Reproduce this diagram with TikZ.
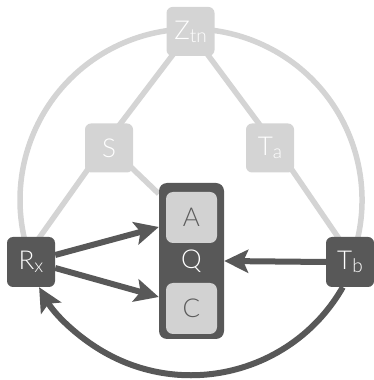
\documentclass[tikz,border=0pt]{standalone}
\usepackage{fontspec}
\setmainfont{Lato}[UprightFont={* Light}]
\usetikzlibrary{arrows.meta,backgrounds}

\definecolor{darkbox}{RGB}{88,88,88}
\definecolor{lightbox}{RGB}{212,212,212}
\definecolor{innerbox}{RGB}{210,210,210}
\definecolor{innertext}{RGB}{92,92,92}

% lowered, smaller index after a letter
\newcommand\idx[1]{\raisebox{-3pt}{\fontsize{19}{19}\selectfont #1}}

\tikzset{
  lbl/.style={font=\fontsize{26}{30}\selectfont},
  faded/.style={lbl, fill=lightbox, text=white, rounded corners=6pt,
                minimum width=48pt, minimum height=49pt, inner sep=0pt},
  solid box/.style={lbl, fill=darkbox, text=white, rounded corners=6pt,
                minimum width=48pt, minimum height=50pt, inner sep=0pt},
  holder/.style={lbl, fill=darkbox, text=white, rounded corners=8pt,
                minimum width=65pt, minimum height=156pt, inner sep=0pt},
  slot/.style={lbl, fill=innerbox, text=innertext, rounded corners=7pt,
                minimum width=51pt, minimum height=51pt, inner sep=0pt},
  ring/.style={draw=lightbox, line width=5.5pt},
  link/.style={draw=lightbox, line width=5.5pt},
  flow/.style={draw=darkbox, line width=6pt,
               -{Stealth[length=24pt,width=23pt,inset=5pt]}}
}

\begin{document}
\begin{tikzpicture}[x=1pt,y=1pt]
\useasboundingbox (0,0) rectangle (373,380);

% nodes
\node[faded] (Ztn) at (190.5,348.5) {Z\idx{tn}};
\node[faded] (S)   at (109,232) {S};
\node[faded] (Ta)  at (270,232) {T\idx{a}};
\node[solid box] (Rx) at (31,118) {R\idx{x}};
\node[solid box] (Tb) at (350,118) {T\idx{b}};
\node[holder] (Q) at (191.5,119) {Q};
\node[slot] (A) at (191.5,162.5) {A};
\node[slot] (C) at (191.5,71.5) {C};

% upper part of the outer ring and pale links, behind the boxes
\begin{scope}[on background layer]
  \draw[ring] (191,180) ++(-25:171) arc[start angle=-25, end angle=205, radius=171];
  \draw[link] (Ztn.center) -- ([xshift=-7pt]S.center);
  \draw[link] (Ztn.center) -- ([xshift=7pt]Ta.center);
  \draw[link] ([xshift=-6pt]S.center) -- ([xshift=-9pt]Rx.center);
  \draw[link] ([xshift=7pt]Ta.center) -- ([xshift=5pt]Tb.center);
  \draw[link] ([xshift=2pt]S.center) -- ([yshift=-11pt]Q.north west);
\end{scope}

% dark arrows
\draw[flow] ([yshift=7pt]Rx.east) -- ([yshift=34pt]Q.west);
\draw[flow] ([yshift=-6pt]Rx.east) -- ([yshift=-36pt]Q.west);
\draw[flow] (Tb.west) -- (Q.east);
\draw[flow] ([xshift=-7.2pt]Tb.south)
  arc[start angle=-29.8, end angle=-150.2, radius=175];
\end{tikzpicture}
\end{document}
